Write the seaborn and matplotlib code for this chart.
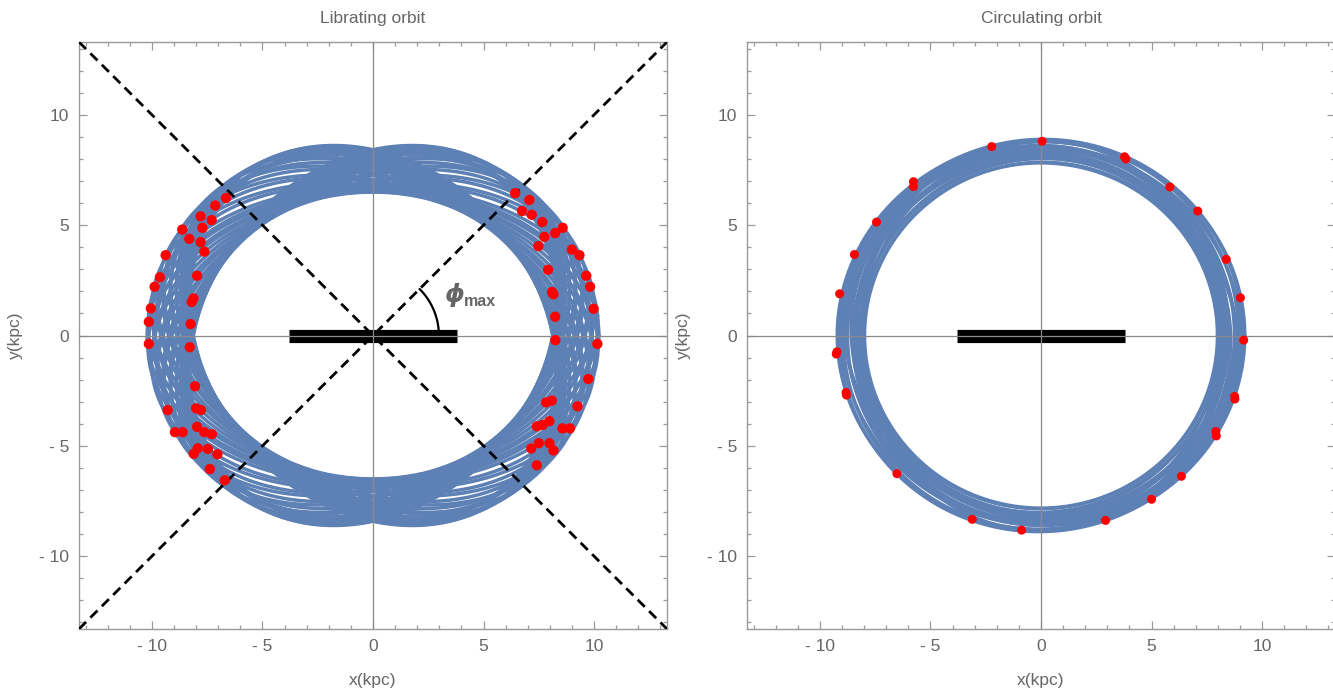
import numpy as np
import pandas as pd
import matplotlib
matplotlib.use("Agg")
import matplotlib.pyplot as plt
import seaborn as sns
from matplotlib.ticker import MultipleLocator, FixedLocator, FixedFormatter

# ---------------- data ----------------
TICK_VALUES = [-10, -5, 0, 5, 10]
TICK_LABELS = ["- 10", "- 5", "0", "5", "10"]
PANEL_TITLES = ["Librating orbit", "Circulating orbit"]
X_LABEL = "x(kpc)"
Y_LABEL = "y(kpc)"
AX_LIMIT = 13.3

# librating orbit: orientation (deg) and semi-axes of successive loops
LIB_TILT_DEG = [-47, -46, -44, -41, -37, -32, -26, -19, -12, -5, 0,
                5, 12, 19, 26, 32, 37, 41, 44, 46, 47]
LIB_SEMI_MAJOR = [9.40, 9.42, 9.48, 9.56, 9.67, 9.80, 9.94, 10.06, 10.15, 10.20, 10.22,
                  10.20, 10.15, 10.06, 9.94, 9.80, 9.67, 9.56, 9.48, 9.42, 9.40]
LIB_SEMI_MINOR = [7.60, 7.58, 7.52, 7.44, 7.33, 7.19, 7.03, 6.87, 6.73, 6.63, 6.60,
                  6.63, 6.73, 6.87, 7.03, 7.19, 7.33, 7.44, 7.52, 7.58, 7.60]
LIB_SPREAD = [0.0, -0.3]

# circulating orbit loops (near-circular, slightly elongated along x)
CIRC_TILT_DEG = [0, 12, -8, 20, -15, 5, -25, 30, 0, -10, 15, -5, 8, 90, 85, -20, 25, 0]
CIRC_SEMI_MAJOR = [9.22, 9.12, 9.05, 8.95, 8.85, 8.75, 8.65, 8.55, 8.45, 8.35, 8.25, 8.15,
                   8.05, 8.85, 8.60, 9.00, 8.40, 7.98]
CIRC_SEMI_MINOR = [8.80, 8.88, 8.60, 8.75, 8.45, 8.55, 8.30, 8.40, 8.15, 8.25, 8.00, 8.05,
                   7.85, 8.20, 8.10, 8.10, 8.60, 7.82]

# snapshot positions (red dots)
LIB_DOTS_X = [-6.65, -7.14, -7.80, -7.30, -7.72, -8.63, -8.31, -7.80, -7.63, -9.38, -7.96, -9.64,
              -9.88, -8.12, -8.20, -10.05, -10.14, -8.25,
              -10.14, -8.29, -8.05, -9.29, -8.00, -7.78, -7.96, -8.96, -8.61, -7.63, -7.29, -7.93,
              -8.11, -7.47, -7.04, -7.38, -6.71,
              6.43, 7.07, 6.74, 7.18, 7.66, 8.58, 8.24, 7.75, 7.48, 9.00, 9.34, 7.92, 9.65, 9.82,
              8.10, 8.16, 9.98, 8.24,
              8.25, 10.15, 9.74, 7.83, 8.09, 9.25, 7.98, 7.41, 7.68, 8.57, 8.91, 7.50, 7.16, 7.98,
              8.16, 7.41]
LIB_DOTS_Y = [6.23, 5.89, 5.40, 5.23, 4.88, 4.80, 4.38, 4.23, 3.80, 3.64, 2.71, 2.64,
              2.21, 1.68, 1.52, 1.23, 0.62, 0.52,
              -0.38, -0.53, -2.30, -3.38, -3.30, -3.38, -4.14, -4.38, -4.38, -4.38, -4.47, -5.11,
              -5.36, -5.14, -5.38, -6.05, -6.56,
              6.45, 6.14, 5.64, 5.47, 5.14, 4.88, 4.64, 4.47, 4.05, 3.89, 3.64, 2.98, 2.71, 2.21,
              1.97, 1.87, 1.21, 0.85,
              -0.21, -0.38, -1.97, -3.03, -2.95, -3.21, -3.88, -4.12, -4.05, -4.21, -4.21, -4.88,
              -5.12, -4.88, -5.21, -5.88]

CIRC_DOTS_X = [0.05, -2.23, 3.78, 3.84, -5.77, -5.77, 5.83, 7.09, -7.44, -8.44, 8.38, -9.11, 9.02,
               9.17, -9.23, -9.26, -8.82, -8.80, 8.76, 8.77, 7.91, 7.93, -6.52, 6.35, 5.00, -3.11,
               2.92, -0.88]
CIRC_DOTS_Y = [8.80, 8.56, 8.10, 8.00, 6.75, 6.97, 6.73, 5.64, 5.14, 3.67, 3.45, 1.89, 1.71,
               -0.21, -0.74, -0.84, -2.58, -2.70, -2.76, -2.88, -4.35, -4.55, -6.26, -6.38, -7.42,
               -8.33, -8.38, -8.82]

BAR_X = [-3.8, 3.8]
BAR_Y = [-0.02, -0.02]
PHI_MAX_DEG = 45
ARC_RADIUS = 2.98
PHI_LABEL_POS = (3.67, 1.82)
MAX_LABEL_POS = (4.86, 1.55)

# ---------------- style ----------------
BLUE = "#5E81B5"
RED = "#FF0000"
GREY_TXT = "#666666"
GREY_AX = "#9a9a9a"

sns.set_theme(style="white")
plt.rcParams["font.family"] = ["Liberation Sans", "DejaVu Sans"]


def ellipse_frame(tilts, a_list, b_list, spreads=(0.0,)):
    t = np.linspace(0, 2 * np.pi, 600)
    rows = []
    k = 0
    for s in spreads:
        for tilt, a, b in zip(tilts, a_list, b_list):
            al = np.deg2rad(tilt)
            aa, bb = a + s, b + 0.35 * s
            x = aa * np.cos(t) * np.cos(al) - bb * np.sin(t) * np.sin(al)
            y = aa * np.cos(t) * np.sin(al) + bb * np.sin(t) * np.cos(al)
            rows.append(pd.DataFrame({"x": x, "y": y, "orbit": k}))
            k += 1
    return pd.concat(rows, ignore_index=True)


fig = plt.figure(figsize=(13.33, 6.89), dpi=100)
ax_l = fig.add_axes([79 / 1333, 60 / 689, 588 / 1333, 587 / 689])
ax_r = fig.add_axes([747 / 1333, 60 / 689, 588 / 1333, 587 / 689])


def style_axes(ax, title):
    ax.set_xlim(-AX_LIMIT, AX_LIMIT)
    ax.set_ylim(-AX_LIMIT, AX_LIMIT)
    for sp in ax.spines.values():
        sp.set_visible(True)
        sp.set_color(GREY_AX)
        sp.set_linewidth(1.0)
    ax.xaxis.set_major_locator(FixedLocator(TICK_VALUES))
    ax.xaxis.set_major_formatter(FixedFormatter(TICK_LABELS))
    ax.yaxis.set_major_locator(FixedLocator(TICK_VALUES))
    ax.yaxis.set_major_formatter(FixedFormatter(TICK_LABELS))
    ax.xaxis.set_minor_locator(MultipleLocator(1))
    ax.yaxis.set_minor_locator(MultipleLocator(1))
    ax.tick_params(which="both", direction="in", top=True, right=True, bottom=True, left=True,
                   color=GREY_AX, width=0.9)
    ax.tick_params(which="major", length=5.5, labelsize=12.5, labelcolor=GREY_TXT, pad=7)
    ax.tick_params(which="minor", length=3)
    ax.axhline(0, color="#8a8a8a", lw=0.9, zorder=5)
    ax.axvline(0, color="#8a8a8a", lw=0.9, zorder=5)
    ax.set_title(title, fontsize=12.5, color=GREY_TXT, pad=14)
    ax.set_xlabel(X_LABEL, fontsize=12.5, color=GREY_TXT, labelpad=14)
    ax.set_ylabel(Y_LABEL, fontsize=12.5, color=GREY_TXT, labelpad=12)


# ---- left panel ----
lib = ellipse_frame(LIB_TILT_DEG, LIB_SEMI_MAJOR, LIB_SEMI_MINOR, LIB_SPREAD)
sns.lineplot(data=lib, x="x", y="y", units="orbit", estimator=None, sort=False,
             color=BLUE, linewidth=2.5, ax=ax_l, legend=False, zorder=2)
phi = np.deg2rad(PHI_MAX_DEG)
ax_l.axline((0, 0), slope=np.tan(phi), color="black", lw=2.0, ls=(0, (3.6, 2.2)), zorder=3)
ax_l.axline((0, 0), slope=-np.tan(phi), color="black", lw=2.0, ls=(0, (3.6, 2.2)), zorder=3)
th = np.linspace(0, phi, 60)
ax_l.plot(ARC_RADIUS * np.cos(th), ARC_RADIUS * np.sin(th), color="black", lw=1.6, zorder=3)
ax_l.plot(BAR_X, BAR_Y, color="black", lw=9.5, solid_capstyle="butt", zorder=4)
sns.scatterplot(x=LIB_DOTS_X, y=LIB_DOTS_Y, color=RED, s=55, edgecolor="none", ax=ax_l, zorder=6)
ax_l.text(*PHI_LABEL_POS, "ϕ", fontsize=18, fontweight="bold", fontstyle="italic",
          family="DejaVu Sans", color=GREY_TXT, ha="center", va="center", zorder=7)
ax_l.text(*MAX_LABEL_POS, "max", fontsize=11.5, fontweight="bold",
          color=GREY_TXT, ha="center", va="center", zorder=7)
style_axes(ax_l, PANEL_TITLES[0])

# ---- right panel ----
circ = ellipse_frame(CIRC_TILT_DEG, CIRC_SEMI_MAJOR, CIRC_SEMI_MINOR)
sns.lineplot(data=circ, x="x", y="y", units="orbit", estimator=None, sort=False,
             color=BLUE, linewidth=2.4, ax=ax_r, legend=False, zorder=2)
ax_r.plot(BAR_X, BAR_Y, color="black", lw=9.5, solid_capstyle="butt", zorder=4)
sns.scatterplot(x=CIRC_DOTS_X, y=CIRC_DOTS_Y, color=RED, s=42, edgecolor="none", ax=ax_r, zorder=6)
style_axes(ax_r, PANEL_TITLES[1])

fig.savefig("out.png", dpi=100)
